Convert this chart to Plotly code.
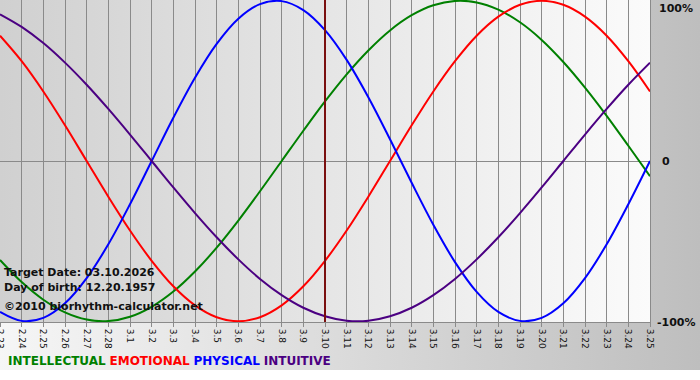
import base64
import plotly.graph_objects as go

# ---- data ----
dates = ["2.23", "2.24", "2.25", "2.26", "2.27", "2.28",
         "3.1", "3.2", "3.3", "3.4", "3.5", "3.6", "3.7", "3.8", "3.9", "3.10",
         "3.11", "3.12", "3.13", "3.14", "3.15", "3.16", "3.17", "3.18", "3.19",
         "3.20", "3.21", "3.22", "3.23", "3.24", "3.25"]

intellectual = [-61.8, -75.6, -86.6, -94.5, -99.0, -99.9, -97.2, -91.0, -81.5, -69.0,
                -54.1, -37.2, -18.9, 0.0, 18.9, 37.2, 54.1, 69.0, 81.5, 91.0,
                97.2, 99.9, 99.0, 94.5, 86.6, 75.6, 61.8, 45.8, 28.2, 9.5, -9.5]
emotional = [78.2, 62.3, 43.4, 22.3, 0.0, -22.3, -43.4, -62.3, -78.2, -90.1,
             -97.5, -100.0, -97.5, -90.1, -78.2, -62.3, -43.4, -22.3, 0.0, 22.3,
             43.4, 62.3, 78.2, 90.1, 97.5, 100.0, 97.5, 90.1, 78.2, 62.3, 43.4]
physical = [-94.2, -99.8, -97.9, -88.8, -73.1, -52.0, -27.0, 0.0, 27.0, 52.0,
            73.1, 88.8, 97.9, 99.8, 94.2, 81.7, 63.1, 39.8, 13.6, -13.6,
            -39.8, -63.1, -81.7, -94.2, -99.8, -97.9, -88.8, -73.1, -52.0, -27.0, 0.0]
intuitive = [91.6, 83.7, 73.6, 61.4, 47.6, 32.5, 16.5, 0.0, -16.5, -32.5,
             -47.6, -61.4, -73.6, -83.7, -91.6, -96.9, -99.7, -99.7, -96.9, -91.6,
             -83.7, -73.6, -61.4, -47.6, -32.5, -16.5, 0.0, 16.5, 32.5, 47.6, 61.4]

series_names = ["INTELLECTUAL", "EMOTIONAL", "PHYSICAL", "INTUITIVE"]
series_colors = ["#008000", "#ff0000", "#0000ff", "#4b0082"]
target_date = "3.10"
y_tick_labels = ["100%", "0", "-100%"]
info_lines = ["Target Date: 03.10.2026", "Day of birth: 12.20.1957",
              "\u00a92010 biorhythm-calculator.net"]

W, H = 700, 380
ML, MR, MT, MB = 0, 50, 0, 58
plot_w = W - ML - MR
plot_h = H - MT - MB


def px_x(px):
    return (px - ML) / plot_w


def px_y(py):
    return 1 - (py - MT) / plot_h


def grad_uri(c1, c2):
    svg = ('<svg xmlns="http://www.w3.org/2000/svg" width="100" height="100" '
           'viewBox="0 0 100 100" preserveAspectRatio="none">'
           '<defs><linearGradient id="g" x1="0" y1="0" x2="1" y2="0">'
           f'<stop offset="0" stop-color="{c1}"/><stop offset="1" stop-color="{c2}"/>'
           '</linearGradient></defs><rect width="100" height="100" fill="url(#g)"/></svg>')
    return "data:image/svg+xml;base64," + base64.b64encode(svg.encode()).decode()


fig = go.Figure()
for name, vals, col in zip(series_names, [intellectual, emotional, physical, intuitive], series_colors):
    fig.add_trace(go.Scatter(x=dates, y=vals, mode="lines", name=name,
                             line=dict(color=col, width=2, shape="spline", smoothing=1.0),
                             hoverinfo="skip"))

fig.add_trace(go.Scatter(x=[target_date, target_date], y=[-101, 101], mode="lines",
                         line=dict(color="#7a0f0f", width=2), hoverinfo="skip"))

# backgrounds
fig.add_layout_image(dict(source=grad_uri("#f6f6f6", "#bebebe"), xref="paper", yref="paper",
                          x=px_x(0), y=px_y(0), sizex=W / plot_w, sizey=370 / plot_h,
                          xanchor="left", yanchor="top", sizing="stretch", layer="below"))
fig.add_layout_image(dict(source=grad_uri("#d0d0d0", "#fbfbfb"), xref="paper", yref="paper",
                          x=0, y=1, sizex=1, sizey=1,
                          xanchor="left", yanchor="top", sizing="stretch", layer="below"))

# right-side y labels (pixel positions)
ylab_pos = [(657, 8), (660, 161), (698, 322)]
for lab, (pxx, pyy) in zip(y_tick_labels, ylab_pos):
    fig.add_annotation(x=px_x(pxx), xref="paper", y=px_y(pyy), yref="paper", text=f"<b>{lab}</b>",
                       showarrow=False, xanchor="right" if lab == "-100%" else "left",
                       yanchor="middle", font=dict(family="DejaVu Sans", size=11, color="#111111"))

# info text
for t, py in zip(info_lines, [272, 287, 306]):
    fig.add_annotation(x=px_x(2), xref="paper", y=px_y(py), yref="paper", text=f"<b>{t}</b>",
                       showarrow=False, xanchor="left", yanchor="middle",
                       font=dict(family="DejaVu Sans", size=11, color="#111111"))

# legend text at bottom
leg = " ".join(f'<span style="color:{c}"><b>{n}</b></span>' for n, c in zip(series_names, series_colors))
fig.add_annotation(x=px_x(6), xref="paper", y=px_y(361), yref="paper", text=leg, showarrow=False,
                   xanchor="left", yanchor="middle", font=dict(family="DejaVu Sans", size=12))

fig.update_layout(
    width=W, height=H, margin=dict(l=ML, r=MR, t=MT, b=MB, pad=0, autoexpand=False),
    paper_bgcolor="#ffffff", plot_bgcolor="rgba(0,0,0,0)", showlegend=False,
    xaxis=dict(type="category", range=[0, len(dates) - 1], tickvals=dates, ticktext=dates,
               showgrid=True, gridcolor="#8a8a8a", gridwidth=1, tickangle=90,
               ticks="outside", ticklen=4, tickcolor="#8a8a8a", automargin=False,
               tickfont=dict(family="DejaVu Sans", size=9, color="#111111"),
               showline=True, linecolor="#8a8a8a", mirror=True, zeroline=False, fixedrange=True),
    yaxis=dict(range=[-100.5, 100.5], tickvals=[0], showticklabels=False, showgrid=True,
               gridcolor="#8a8a8a", zeroline=False, showline=True, linecolor="#8a8a8a",
               mirror=True, fixedrange=True, automargin=False),
)

fig.write_html("out.html", config={"displayModeBar": False},
               post_script="document.body.style.margin='0px';document.body.style.overflow='hidden';")
